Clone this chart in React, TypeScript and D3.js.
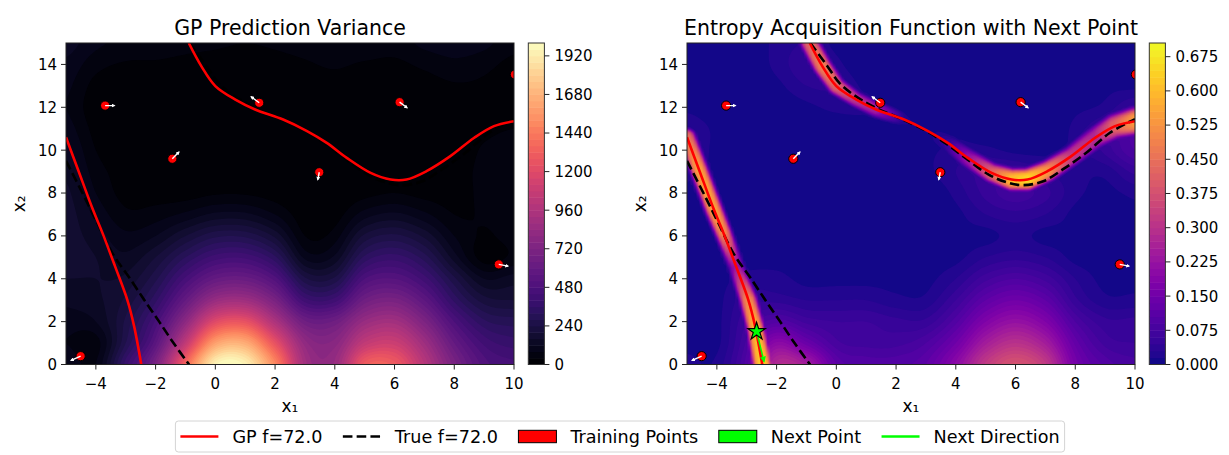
import React, { useMemo } from 'react';
import * as d3 from 'd3';

const width = 1229;
const height = 455;
const font = '"DejaVu Sans", sans-serif';

const plot = { top: 43, width: 448, height: 321.5 };
const panelX = [66, 687];
const cbGap = 14.3;
const cbWidth = 16.1;

const x1Ticks = [-4, -2, 0, 2, 4, 6, 8, 10];
const x2Ticks = [0, 2, 4, 6, 8, 10, 12, 14];
const varianceTicks = [0, 240, 480, 720, 960, 1200, 1440, 1680, 1920];
const acquisitionTicks = [0, 0.075, 0.15, 0.225, 0.3, 0.375, 0.45, 0.525, 0.6, 0.675];
const varianceLevels = d3.range(0, 51).map(i => i * 40);
const acquisitionLevels = d3.range(0, 48).map(i => i * 0.015);

// coarse sample grid
const gridX1 = [-5, -4, -3, -2, -1, 0, 1, 2, 3, 4, 5, 6, 7, 8, 9, 10];
const gridX2 = [0, 1, 2, 3, 4, 5, 6, 7, 8, 9, 10, 11, 12, 13, 14, 15];

// GP variance, one row per x2 (bottom to top)
const varianceRows = [
  [120, 80, 380, 700, 1350, 1950, 1950, 1500, 900, 850, 1300, 1300, 1000, 700, 500, 450],
  [80, 60, 280, 550, 1050, 1600, 1650, 1250, 820, 780, 1050, 1100, 880, 600, 430, 380],
  [100, 120, 250, 450, 800, 1200, 1250, 950, 650, 650, 850, 900, 720, 480, 330, 300],
  [130, 150, 210, 350, 600, 850, 880, 700, 420, 420, 650, 700, 560, 350, 220, 200],
  [160, 160, 170, 270, 450, 600, 620, 500, 250, 250, 480, 520, 420, 250, 120, 140],
  [180, 160, 130, 200, 320, 420, 430, 330, 110, 130, 330, 380, 300, 140, 20, 50],
  [180, 140, 90, 120, 200, 270, 270, 190, 40, 60, 210, 250, 190, 80, 35, 60],
  [180, 110, 50, 60, 90, 130, 130, 80, 15, 20, 100, 130, 90, 40, 45, 70],
  [170, 80, 25, 20, 20, 35, 35, 20, 5, 5, 25, 40, 25, 25, 50, 75],
  [150, 60, 20, 5, 3, 8, 8, 5, 3, 3, 5, 8, 10, 25, 50, 75],
  [130, 40, 12, 3, 3, 5, 5, 5, 5, 5, 5, 5, 8, 18, 45, 65],
  [100, 25, 5, 5, 5, 5, 3, 5, 5, 8, 8, 5, 8, 18, 30, 40],
  [80, 12, 3, 8, 8, 5, 1, 3, 8, 10, 8, 1, 5, 18, 25, 18],
  [90, 25, 12, 18, 18, 12, 5, 8, 18, 25, 18, 8, 18, 35, 30, 3],
  [110, 55, 35, 35, 30, 25, 18, 25, 35, 45, 35, 30, 50, 70, 55, 25],
  [140, 90, 70, 60, 50, 45, 40, 45, 55, 70, 70, 60, 90, 100, 90, 55],
];

// entropy acquisition away from the f=72 ridge, in hundredths
const acquisitionRows = [
  [2, 2, 10, 28, 25, 12, 10, 10, 12, 20, 32, 38, 32, 16, 10, 8],
  [1, 1, 8, 20, 14, 8, 7, 7, 9, 15, 25, 30, 25, 13, 7, 6],
  [1, 1, 6, 10, 7, 6, 6, 5, 5, 10, 18, 22, 18, 9, 5, 5],
  [1, 1, 4, 4, 3, 3, 3, 2, 2, 6, 12, 15, 12, 5, 2, 2],
  [1, 1, 2, 2, 1, 1, 1, 1, 1, 3, 7, 9, 7, 3, 1, 1],
  [0, 1, 1, 1, 1, 1, 1, 1, 1, 1, 3, 4, 3, 1, 1, 1],
  [0, 0, 1, 1, 0, 0, 0, 0, 0, 1, 1, 2, 1, 1, 0, 1],
  [0, 0, 0, 0, 0, 0, 0, 0, 0, 1, 3, 4, 3, 1, 0, 1],
  [1, 0, 0, 0, 0, 0, 0, 0, 0, 2, 5, 7, 5, 2, 1, 2],
  [2, 1, 0, 0, 0, 0, 0, 0, 1, 3, 5, 5, 3, 2, 2, 5],
  [3, 1, 0, 0, 0, 0, 0, 0, 1, 2, 2, 1, 1, 2, 5, 9],
  [3, 1, 0, 0, 0, 0, 0, 0, 0, 1, 0, 0, 0, 2, 5, 9],
  [1, 0, 0, 0, 1, 2, 2, 0, 0, 0, 0, 0, 0, 1, 2, 5],
  [0, 0, 0, 1, 3, 3, 1, 0, 0, 0, 0, 0, 0, 0, 1, 1],
  [0, 0, 0, 2, 4, 2, 0, 0, 0, 0, 0, 0, 0, 0, 0, 0],
  [0, 0, 0, 2, 3, 1, 0, 0, 0, 0, 0, 0, 0, 0, 0, 0],
];

// GP f=72 contour
const gpLeftX1 = [-5.0, -4.6, -4.1, -3.78, -3.36, -2.95, -2.72, -2.48];
const gpLeftX2 = [10.6, 9.1, 7.23, 6.14, 4.59, 3.03, 1.79, 0];
const gpUpperX1 = [-0.89, -0.47, 0, 0.67, 1.33, 2.27, 3.07, 3.73, 4.4, 5.2, 5.87, 6.4, 7.07, 7.87, 8.67, 9.33, 10];
const gpUpperX2 = [15, 13.92, 12.99, 12.36, 11.9, 11.43, 10.89, 10.34, 9.64, 8.94, 8.63, 8.63, 9.02, 9.72, 10.58, 11.12, 11.35];

// true f=72 contour
const trueLeftX1 = [-5.0, -4.45, -3.95, -3.45, -2.83, -2.35, -1.88, -1.4, -0.88];
const trueLeftX2 = [9.5, 8.0, 6.6, 5.2, 3.95, 2.95, 2.0, 1.0, 0];
const trueUpperX1 = [-0.87, -0.3, 0.1, 0.56, 1.21, 2.27, 3.07, 3.73, 4.4, 5.1, 5.75, 6.27, 6.93, 7.58, 8.37, 9.15, 10];
const trueUpperX2 = [15, 13.92, 13.14, 12.6, 12.05, 11.4, 10.85, 10.25, 9.55, 8.86, 8.48, 8.37, 8.55, 9.1, 9.88, 10.8, 11.45];

// acquisition ridge along the GP contour: peak (hundredths) and half width (x2 units)
const ridgeLeftPeak = [45, 55, 55, 50, 22, 50, 58, 63];
const ridgeLeftWidth = [0.32, 0.32, 0.32, 0.3, 0.28, 0.32, 0.32, 0.36];
const ridgeUpperPeak = [42, 48, 42, 30, 25, 2, 0, 5, 22, 42, 60, 65, 52, 32, 28, 42, 55];
const ridgeUpperWidth = [0.34, 0.34, 0.32, 0.28, 0.28, 0.25, 0.25, 0.3, 0.34, 0.36, 0.4, 0.4, 0.38, 0.36, 0.4, 0.45, 0.5];

// training points and their gradient arrows
const trainX1 = [-3.69, 1.47, -1.44, 3.48, 6.17, 10.03, 9.49, -4.51];
const trainX2 = [12.08, 12.21, 9.6, 8.97, 12.24, 13.53, 4.67, 0.39];
const gradU = [0.31, -0.27, 0.22, -0.05, 0.25, 0.3, 0.31, -0.32];
const gradV = [0, 0.28, 0.31, -0.34, -0.26, 0, -0.08, -0.2];

const nextPoint = [-2.67, 1.54];
const nextDirection = [0.25, -1.4];

const legendLabels = ['GP f=72.0', 'True f=72.0', 'Training Points', 'Next Point', 'Next Direction'];

const xScale = d3.scaleLinear().domain([-5, 10]).range([0, plot.width]);
const yScale = d3.scaleLinear().domain([0, 15]).range([plot.height, 0]);
const pxPerUnit = plot.height / 15;

const fineStep = 0.1;
const nFine = 151;

function cubic(p0, p1, p2, p3, t) {
  return p1 + 0.5 * t * (p2 - p0 + t * (2 * p0 - 5 * p1 + 4 * p2 - p3 + t * (3 * (p1 - p2) + p3 - p0)));
}

function sampleGrid(rows, x1, x2) {
  const n = gridX1.length;
  const m = gridX2.length;
  const gx = (x1 - gridX1[0]) / (gridX1[1] - gridX1[0]);
  const gy = (x2 - gridX2[0]) / (gridX2[1] - gridX2[0]);
  const ix = Math.min(Math.max(Math.floor(gx), 0), n - 2);
  const iy = Math.min(Math.max(Math.floor(gy), 0), m - 2);
  const at = (r, c) => rows[Math.min(Math.max(r, 0), m - 1)][Math.min(Math.max(c, 0), n - 1)];
  const col = k => cubic(at(iy - 1, ix + k), at(iy, ix + k), at(iy + 1, ix + k), at(iy + 2, ix + k), gy - iy);
  return cubic(col(-1), col(0), col(1), col(2), gx - ix);
}

const ridges = [
  { x1: gpLeftX1, x2: gpLeftX2, peak: ridgeLeftPeak, w: ridgeLeftWidth },
  { x1: gpUpperX1, x2: gpUpperX2, peak: ridgeUpperPeak, w: ridgeUpperWidth },
];

function ridgeValue(x1, x2) {
  const px = xScale(x1);
  const py = yScale(x2);
  let best = 0;
  ridges.forEach((c) => {
    for (let k = 0; k < c.x1.length - 1; k++) {
      const ax = xScale(c.x1[k]); const ay = yScale(c.x2[k]);
      const dx = xScale(c.x1[k + 1]) - ax; const dy = yScale(c.x2[k + 1]) - ay;
      let t = ((px - ax) * dx + (py - ay) * dy) / (dx * dx + dy * dy);
      t = Math.min(Math.max(t, 0), 1);
      const d = Math.hypot(px - ax - t * dx, py - ay - t * dy);
      const peak = (c.peak[k] + t * (c.peak[k + 1] - c.peak[k])) / 100;
      const w = (c.w[k] + t * (c.w[k + 1] - c.w[k])) * pxPerUnit;
      const v = peak * Math.exp(-0.5 * (d / w) ** 4);
      if (v > best) best = v;
    }
  });
  return best;
}

function buildField(rows, scale, top, withRidge) {
  const values = new Float64Array(nFine * nFine);
  for (let j = 0; j < nFine; j++) {
    const x2 = 15 - j * fineStep;
    for (let i = 0; i < nFine; i++) {
      const x1 = -5 + i * fineStep;
      let v = sampleGrid(rows, x1, x2) * scale;
      if (withRidge) v = Math.max(v, ridgeValue(x1, x2));
      values[j * nFine + i] = Math.min(Math.max(v, 0), top * 0.9999);
    }
  }
  return values;
}

const gridToPlot = d3.geoTransform({
  point(x, y) {
    this.stream.point(xScale(-5 + (x - 0.5) * fineStep), yScale(15 - (y - 0.5) * fineStep));
  },
});
const contourPath = d3.geoPath(gridToPlot);

const measureCtx = document.createElement('canvas').getContext('2d');
function textWidth(s, size) {
  measureCtx.font = `${size}px "DejaVu Sans"`;
  return measureCtx.measureText(s).width;
}

const line = d3.line().curve(d3.curveCatmullRom.alpha(0.5));
const toPts = (xs, ys) => xs.map((x, i) => [xScale(x), yScale(ys[i])]);

function Panel({ idx, title, values, levels, cmap, ticks, fmt, showNext }) {
  const left = panelX[idx];
  const nBands = levels.length - 1;
  const color = i => cmap((i + 0.5) / nBands);
  const contours = useMemo(
    () => d3.contours().size([nFine, nFine]).thresholds(levels.slice(0, -1))(values),
    [values],
  );
  const cbScale = d3.scaleLinear().domain([levels[0], levels[nBands]]).range([plot.height, 0]);
  const clipId = `clip${idx}`;
  const nx = xScale(nextPoint[0]);
  const ny = yScale(nextPoint[1]);
  return (
    <g transform={`translate(${left},${plot.top})`}>
      <clipPath id={clipId}><rect width={plot.width} height={plot.height} /></clipPath>
      <g clipPath={`url(#${clipId})`}>
        <rect width={plot.width} height={plot.height} fill={color(0)} />
        {contours.map((c, i) => (
          <path key={i} d={contourPath(c)} fill={color(i)} />
        ))}
        <path d={line(toPts(trueLeftX1, trueLeftX2))} fill="none" stroke="#000" strokeWidth={2.6} strokeDasharray="9.6,4.2" />
        <path d={line(toPts(trueUpperX1, trueUpperX2))} fill="none" stroke="#000" strokeWidth={2.6} strokeDasharray="9.6,4.2" />
        <path d={line(toPts(gpLeftX1, gpLeftX2))} fill="none" stroke="#ff0000" strokeWidth={2.6} />
        <path d={line(toPts(gpUpperX1, gpUpperX2))} fill="none" stroke="#ff0000" strokeWidth={2.6} />
        {trainX1.map((x, i) => (
          <circle key={i} cx={xScale(x)} cy={yScale(trainX2[i])} r={4.6} fill="#ff0000" stroke="#000" strokeWidth={1} />
        ))}
        {trainX1.map((x, i) => (
          <line
            key={i}
            x1={xScale(x)}
            y1={yScale(trainX2[i])}
            x2={xScale(x + gradU[i])}
            y2={yScale(trainX2[i] + gradV[i])}
            stroke="#fff"
            strokeWidth={1.4}
            markerEnd="url(#whiteHead)"
          />
        ))}
        {showNext && (
          <g>
            <line
              x1={nx}
              y1={ny}
              x2={xScale(nextPoint[0] + nextDirection[0])}
              y2={yScale(nextPoint[1] + nextDirection[1])}
              stroke="#00ff00"
              strokeWidth={1.5}
              markerEnd="url(#greenHead)"
            />
            <path d={d3.symbol(d3.symbolStar, 95)()} transform={`translate(${nx},${ny})`} fill="#00ff00" stroke="#000" strokeWidth={1.2} />
          </g>
        )}
      </g>
      <rect width={plot.width} height={plot.height} fill="none" stroke="#222" strokeWidth={1} />
      {x1Ticks.map(t => (
        <g key={t} transform={`translate(${xScale(t)},${plot.height})`}>
          <line y2={5} stroke="#222" />
          <text y={24.5} textAnchor="middle" fontSize={15}>{t < 0 ? `\u2212${-t}` : t}</text>
        </g>
      ))}
      {x2Ticks.map(t => (
        <g key={t} transform={`translate(0,${yScale(t)})`}>
          <line x2={-5} stroke="#222" />
          <text x={-9} dy="0.36em" textAnchor="end" fontSize={15}>{t}</text>
        </g>
      ))}
      <text x={plot.width / 2} y={-8.5} textAnchor="middle" fontSize={20.5}>{title}</text>
      <text x={plot.width / 2} y={plot.height + 47} textAnchor="middle" fontSize={17}>x₁</text>
      <text transform={`translate(-41,${plot.height / 2}) rotate(-90)`} textAnchor="middle" fontSize={17}>x₂</text>
      <g transform={`translate(${plot.width + cbGap},0)`}>
        {d3.range(nBands).map(i => (
          <rect key={i} x={0} y={cbScale(levels[i + 1])} width={cbWidth} height={cbScale(levels[i]) - cbScale(levels[i + 1]) + 0.5} fill={color(i)} />
        ))}
        <rect width={cbWidth} height={plot.height} fill="none" stroke="#333" strokeWidth={1} />
        {ticks.map(t => (
          <g key={t} transform={`translate(${cbWidth},${cbScale(t)})`}>
            <line x2={5} stroke="#222" />
            <text x={10} dy="0.36em" fontSize={15}>{fmt(t)}</text>
          </g>
        ))}
      </g>
    </g>
  );
}

function Legend() {
  const size = 17.6;
  const handle = 38;
  const textPad = 14;
  const colGap = 20.5;
  const pad = 5;
  const widths = legendLabels.map(s => textWidth(s, size));
  const total = pad * 2 + legendLabels.length * (handle + textPad) + d3.sum(widths) + colGap * (legendLabels.length - 1);
  const x0 = 620 - total / 2;
  const top = 421;
  const h = 31;
  const cy = top + h / 2;
  let x = x0 + pad;
  const items = legendLabels.map((label, i) => {
    const hx = x;
    x += handle + textPad + widths[i] + colGap;
    let mark;
    if (i === 0 || i === 4) {
      mark = <line x1={hx} x2={hx + handle} y1={cy} y2={cy} stroke={i === 0 ? '#ff0000' : '#00ff00'} strokeWidth={2.6} />;
    } else if (i === 1) {
      mark = <line x1={hx} x2={hx + handle} y1={cy} y2={cy} stroke="#000" strokeWidth={2.6} strokeDasharray="9.6,4.2" />;
    } else {
      mark = <rect x={hx} y={cy - 6.2} width={handle} height={12.4} fill={i === 2 ? '#ff0000' : '#00ff00'} stroke="#000" strokeWidth={1} />;
    }
    return (
      <g key={label}>
        {mark}
        <text x={hx + handle + textPad} y={cy} dy="0.36em" fontSize={size}>{label}</text>
      </g>
    );
  });
  return (
    <g>
      <rect x={x0} y={top} width={total} height={h} rx={3} fill="#fff" stroke="#d4d4d4" strokeWidth={1} />
      {items}
    </g>
  );
}

export default function App() {
  const varianceValues = useMemo(() => buildField(varianceRows, 1, 2000, false), []);
  const acquisitionValues = useMemo(() => buildField(acquisitionRows, 0.01, 0.705, true), []);
  return (
    <svg width={width} height={height} style={{ position: 'absolute', left: 0, top: 0, background: '#fff' }} fontFamily={font}>
      <defs>
        <marker id="whiteHead" viewBox="0 0 10 10" refX="7" refY="5" markerWidth="2.8" markerHeight="2.8" orient="auto">
          <path d="M0,0L10,5L0,10z" fill="#fff" />
        </marker>
        <marker id="greenHead" viewBox="0 0 10 10" refX="8" refY="5" markerWidth="4" markerHeight="4" orient="auto">
          <path d="M0,0L10,5L0,10z" fill="#00ff00" />
        </marker>
      </defs>
      <Panel
        idx={0}
        title="GP Prediction Variance"
        values={varianceValues}
        levels={varianceLevels}
        cmap={d3.interpolateMagma}
        ticks={varianceTicks}
        fmt={t => String(t)}
        showNext={false}
      />
      <Panel
        idx={1}
        title="Entropy Acquisition Function with Next Point"
        values={acquisitionValues}
        levels={acquisitionLevels}
        cmap={d3.interpolatePlasma}
        ticks={acquisitionTicks}
        fmt={t => t.toFixed(3)}
        showNext
      />
      <Legend />
    </svg>
  );
}
